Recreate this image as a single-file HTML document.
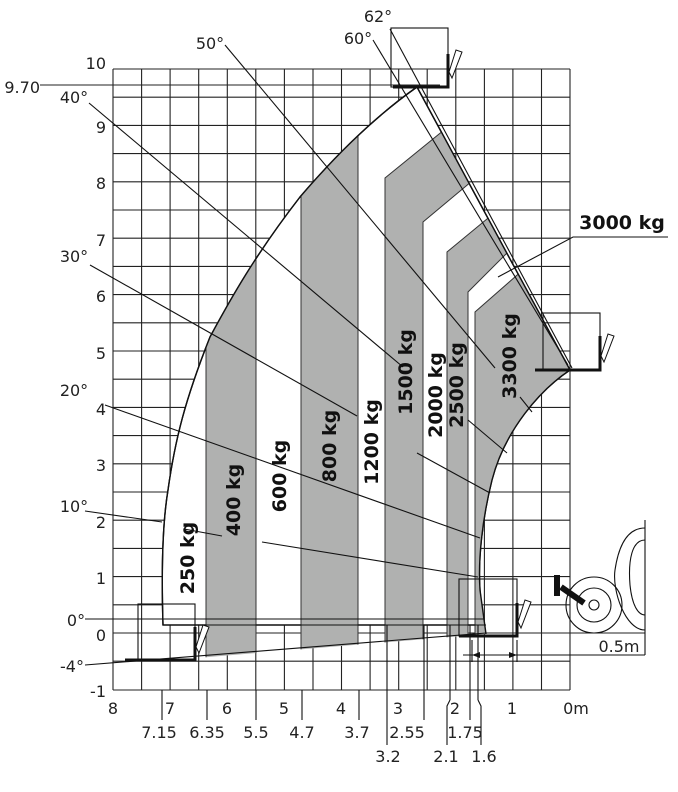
<!DOCTYPE html>
<html><head><meta charset="utf-8"><style>
html,body{margin:0;padding:0;background:#fff;}
svg{display:block;font-family:"DejaVu Sans","Liberation Sans",sans-serif;}
</style></head><body>
<svg width="678" height="792" viewBox="0 0 678 792" xmlns="http://www.w3.org/2000/svg">
<defs>
<clipPath id="cg"><path d="M163,625 C161,560 163,520 168,490 C175,440 185,400 210,337 C230,300 255,255 300,197 C330,162 370,120 417,87 L570,370 C540,390 505,430 492,480 C482,520 478,560 480,590 L486,634 L197,658 L197,625 Z"/></clipPath>
</defs>
<!-- grid -->
<g stroke="#222" stroke-width="1.1">
<g id="v">
<line x1="113" y1="69" x2="113" y2="690"/><line x1="141.6" y1="69" x2="141.6" y2="690"/><line x1="170.1" y1="69" x2="170.1" y2="690"/><line x1="198.7" y1="69" x2="198.7" y2="690"/><line x1="227.3" y1="69" x2="227.3" y2="690"/><line x1="255.8" y1="69" x2="255.8" y2="690"/><line x1="284.4" y1="69" x2="284.4" y2="690"/><line x1="313" y1="69" x2="313" y2="690"/><line x1="341.5" y1="69" x2="341.5" y2="690"/><line x1="370.1" y1="69" x2="370.1" y2="690"/><line x1="398.7" y1="69" x2="398.7" y2="690"/><line x1="427.2" y1="69" x2="427.2" y2="690"/><line x1="455.8" y1="69" x2="455.8" y2="690"/><line x1="484.4" y1="69" x2="484.4" y2="690"/><line x1="512.9" y1="69" x2="512.9" y2="690"/><line x1="541.5" y1="69" x2="541.5" y2="690"/><line x1="570" y1="69" x2="570" y2="690"/>
</g>
<line x1="113" y1="69" x2="570" y2="69"/><line x1="113" y1="97.2" x2="570" y2="97.2"/><line x1="113" y1="125.4" x2="570" y2="125.4"/><line x1="113" y1="153.6" x2="570" y2="153.6"/><line x1="113" y1="181.8" x2="570" y2="181.8"/><line x1="113" y1="210" x2="570" y2="210"/><line x1="113" y1="238.2" x2="570" y2="238.2"/><line x1="113" y1="266.4" x2="570" y2="266.4"/><line x1="113" y1="294.6" x2="570" y2="294.6"/><line x1="113" y1="322.8" x2="570" y2="322.8"/><line x1="113" y1="351" x2="570" y2="351"/><line x1="113" y1="379.2" x2="570" y2="379.2"/><line x1="113" y1="407.4" x2="570" y2="407.4"/><line x1="113" y1="435.6" x2="570" y2="435.6"/><line x1="113" y1="463.8" x2="570" y2="463.8"/><line x1="113" y1="492" x2="570" y2="492"/><line x1="113" y1="520.2" x2="570" y2="520.2"/><line x1="113" y1="548.4" x2="570" y2="548.4"/><line x1="113" y1="576.6" x2="570" y2="576.6"/><line x1="113" y1="604.8" x2="570" y2="604.8"/><line x1="113" y1="633" x2="645" y2="633"/><line x1="113" y1="661.2" x2="570" y2="661.2"/><line x1="113" y1="690" x2="570" y2="690"/>
<line x1="40" y1="85" x2="440" y2="85"/>
</g>
<!-- white envelope -->
<path d="M163,625 C161,560 163,520 168,490 C175,440 185,400 210,337 C230,300 255,255 300,197 C330,162 370,120 417,87 L570,370 C540,390 505,430 492,480 C482,520 478,560 480,590 L483,625 Z" fill="#fff" stroke="#111" stroke-width="1.4"/>
<!-- gray bands -->
<g clip-path="url(#cg)" fill="#b0b1b0" stroke="#333" stroke-width="1">
<rect x="206" y="60" width="50" height="700"/>
<rect x="301" y="60" width="57" height="700"/>
<polygon points="385,700 385,178 460,117 490,166 423,222 423,700"/>
<polygon points="447,700 447,252 510,200 530,230 468,292 468,700"/>
<polygon points="475,700 475,312 540,255 620,300 620,700"/>
</g>
<path d="M163,625 C161,560 163,520 168,490 C175,440 185,400 210,337 C230,300 255,255 300,197 C330,162 370,120 417,87 L570,370 C540,390 505,430 492,480 C482,520 478,560 480,590 L486,634" fill="none" stroke="#111" stroke-width="1.4"/>
<g stroke="#111" stroke-width="1.1" fill="none">
<line x1="163" y1="625" x2="486" y2="625"/>
<line x1="85" y1="619" x2="484" y2="619"/>
<line x1="85" y1="665" x2="486" y2="633"/>
<!-- angle lines -->
<line x1="225" y1="45" x2="495" y2="368"/>
<line x1="89" y1="103" x2="403" y2="367"/>
<line x1="90" y1="265" x2="357" y2="416"/>
<line x1="105" y1="405" x2="480" y2="538"/>
<line x1="85" y1="511" x2="162" y2="522"/>
<line x1="184" y1="529" x2="222" y2="536"/>
<line x1="262" y1="542" x2="478" y2="577"/>
<line x1="373" y1="40" x2="568" y2="365"/>
<line x1="390" y1="29" x2="572" y2="368"/>
<line x1="417" y1="453" x2="490" y2="493"/>
<line x1="468" y1="420" x2="507" y2="453"/>
<line x1="520" y1="397" x2="532" y2="412"/>
<polyline points="668,237 573,237 498,277"/>
<!-- boxes -->
<rect x="391" y="28" width="57" height="59"/>
<rect x="543" y="313" width="57" height="57"/>
<rect x="459" y="579" width="58" height="57"/>
<rect x="138" y="604" width="57" height="56"/>
<!-- bottom ticks -->
<line x1="162" y1="690" x2="162" y2="720"/><line x1="207" y1="690" x2="207" y2="720"/><line x1="256" y1="690" x2="256" y2="720"/><line x1="302" y1="690" x2="302" y2="720"/><line x1="359" y1="690" x2="359" y2="720"/><line x1="387" y1="625" x2="387" y2="745"/><line x1="424" y1="625" x2="424" y2="720"/><line x1="450" y1="625" x2="450" y2="700"/><polyline points="450,700 447,706 447,745"/><line x1="470" y1="625" x2="470" y2="720"/><line x1="478" y1="625" x2="478" y2="700"/><polyline points="478,700 481,706 481,745"/>
<!-- dimension -->
<line x1="463" y1="655" x2="645" y2="655"/>
<line x1="645" y1="520" x2="645" y2="655"/>
<line x1="472" y1="640" x2="472" y2="662"/><line x1="517" y1="640" x2="517" y2="662"/>
<!-- vehicle -->
<circle cx="594" cy="605" r="28"/><circle cx="594" cy="605" r="17"/><circle cx="594" cy="605" r="5"/>
<path d="M645,528 C625,528 618,550 615,570 C612,590 625,630 645,630"/>
<path d="M645,540 C632,540 628,560 630,585 C632,605 638,615 645,615"/>
</g>
<g stroke="#111" stroke-width="3" fill="none">
<polyline points="393,87 448,87 448,54"/>
<polyline points="535,370 600,370 600,336"/>
<polyline points="459,636 517,636 517,603"/>
<polyline points="125,660 195,660 195,627"/>
<line x1="561" y1="587" x2="584" y2="603" stroke-width="6"/>
<line x1="557" y1="575" x2="557" y2="596" stroke-width="6"/>
</g>
<g stroke="#111" stroke-width="1" fill="#fff">
<path d="M449,72 L456,50 L462,52 L452,78Z"/>
<path d="M601,356 L608,334 L614,336 L604,362Z"/>
<path d="M518,622 L525,600 L531,602 L521,628Z"/>
<path d="M196,647 L203,625 L209,627 L199,653Z"/>
</g>
<g fill="#111" stroke="none">
<polygon points="472,655 480,652 480,658"/><polygon points="517,655 509,652 509,658"/>
</g>
<!-- axis labels -->
<g font-size="16" fill="#222" text-anchor="end">
<text x="106" y="69">10</text><text x="106" y="133">9</text><text x="106" y="189">8</text><text x="106" y="246">7</text><text x="106" y="302">6</text><text x="106" y="359">5</text><text x="106" y="415">4</text><text x="106" y="471">3</text><text x="106" y="528">2</text><text x="106" y="584">1</text><text x="106" y="641">0</text><text x="106" y="697">-1</text>
<text x="40" y="93">9.70</text>
</g>
<g font-size="16" fill="#222" text-anchor="middle">
<text x="113" y="714">8</text><text x="170" y="714">7</text><text x="227" y="714">6</text><text x="284" y="714">5</text><text x="341" y="714">4</text><text x="398" y="714">3</text><text x="455" y="714">2</text><text x="512" y="714">1</text><text x="576" y="714">0m</text>
<text x="159" y="738">7.15</text><text x="207" y="738">6.35</text><text x="256" y="738">5.5</text><text x="302" y="738">4.7</text><text x="357" y="738">3.7</text><text x="407" y="738">2.55</text><text x="465" y="738">1.75</text>
<text x="388" y="762">3.2</text><text x="446" y="762">2.1</text><text x="484" y="762">1.6</text>
<text x="210" y="49">50°</text><text x="378" y="22">62°</text><text x="358" y="44">60°</text>
<text x="74" y="103">40°</text><text x="74" y="262">30°</text><text x="74" y="396">20°</text><text x="74" y="512">10°</text><text x="76" y="626">0°</text><text x="72" y="672">-4°</text>
<text x="619" y="652">0.5m</text>
</g>
<text x="622" y="229" font-size="19" font-weight="bold" text-anchor="middle" fill="#111">3000 kg</text>
<g font-size="19" font-weight="bold" fill="#111" text-anchor="middle">
<text transform="translate(194,558) rotate(-90)">250 kg</text>
<text transform="translate(240,500) rotate(-90)">400 kg</text>
<text transform="translate(286,476) rotate(-90)">600 kg</text>
<text transform="translate(336,446) rotate(-90)">800 kg</text>
<text transform="translate(378,442) rotate(-90)">1200 kg</text>
<text transform="translate(412,372) rotate(-90)">1500 kg</text>
<text transform="translate(442,395) rotate(-90)">2000 kg</text>
<text transform="translate(463,385) rotate(-90)">2500 kg</text>
<text transform="translate(516,356) rotate(-90)">3300 kg</text>
</g>
</svg>
</body></html>
